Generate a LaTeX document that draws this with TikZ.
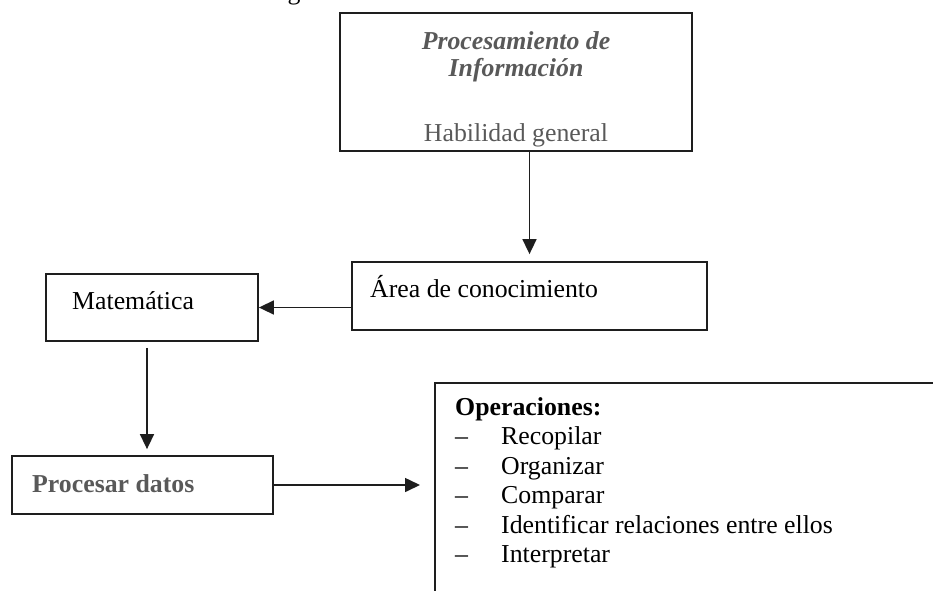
\documentclass[tikz,border=0pt]{standalone}
\usepackage{fontspec}
\setmainfont{Liberation Serif}
\usetikzlibrary{positioning}
\usetikzlibrary{arrows.meta}
\definecolor{gristexto}{HTML}{595959}
\definecolor{linea}{HTML}{1E1E1E}
\tikzset{
    caja/.style={
        draw=linea,
        line width=1.8pt,
        rectangle},
    texto/.style={
        inner sep=0pt,
        font=\fontsize{25.8}{29.5}\selectfont},
    flecha/.style={
        draw=linea,
        line width=1.6pt,
        -{Triangle[length=15pt,width=14pt]}}}

\begin{document}
\begin{tikzpicture}[x=1pt,y=-1pt]
    \useasboundingbox (0,0) rectangle (933,590);

    % cajas
    \node[caja,minimum width=352pt,minimum height=138pt] (info) at (516,82) {};
    \node[caja,minimum width=355pt,minimum height=68pt] (area) at (529.5,296) {};
    \node[caja,minimum width=212pt,minimum height=67pt] (mate) at (152,307.5) {};
    \node[caja,minimum width=261pt,minimum height=58pt] (datos) at (142.5,485) {};
    \node[caja,anchor=north west,minimum width=560pt,minimum height=260pt] (oper) at (434,382) {};

    % textos
    \node[texto,anchor=base] (resto) at (294,-0.5) {g};
    \node[texto,anchor=north,align=center,text=gristexto,
        font=\fontsize{25.8}{27}\selectfont\bfseries\itshape] (infotit) at (516,31) {Procesamiento de\\Información};
    \node[texto,anchor=base,text=gristexto] (infohab) at (516,141) {Habilidad general};
    \node[texto,anchor=base west] (areatxt) at (370,297) {Área de conocimiento};
    \node[texto,anchor=base west] (matetxt) at (72,309) {Matemática};
    \node[texto,anchor=base west,text=gristexto,font=\fontsize{25.8}{29.5}\selectfont\bfseries] (datostxt) at (32,492) {Procesar datos};
    \node[texto,anchor=base west] (optxt) at (455,415) {%
        \begin{tabular}[t]{@{}p{46pt}@{}l@{}}
            \multicolumn{2}{@{}l@{}}{\textbf{Operaciones:}}\\
            -- & Recopilar\\
            -- & Organizar\\
            -- & Comparar\\
            -- & Identificar relaciones entre ellos\\
            -- & Interpretar
        \end{tabular}};

    % flechas
    \coordinate (opin) at ([xshift=-14pt]oper.west |- datos.east);
    \draw[flecha] (info.south -| area.north) -- ([yshift=7pt]area.north);
    \draw[flecha] (area.west |- mate.east) -- (mate.east);
    \draw[flecha] ([yshift=-6pt]mate.south -| 147,0) -- ([yshift=6pt]datos.north -| 147,0);
    \draw[flecha] (datos.east) -- (opin);
\end{tikzpicture}
\end{document}
